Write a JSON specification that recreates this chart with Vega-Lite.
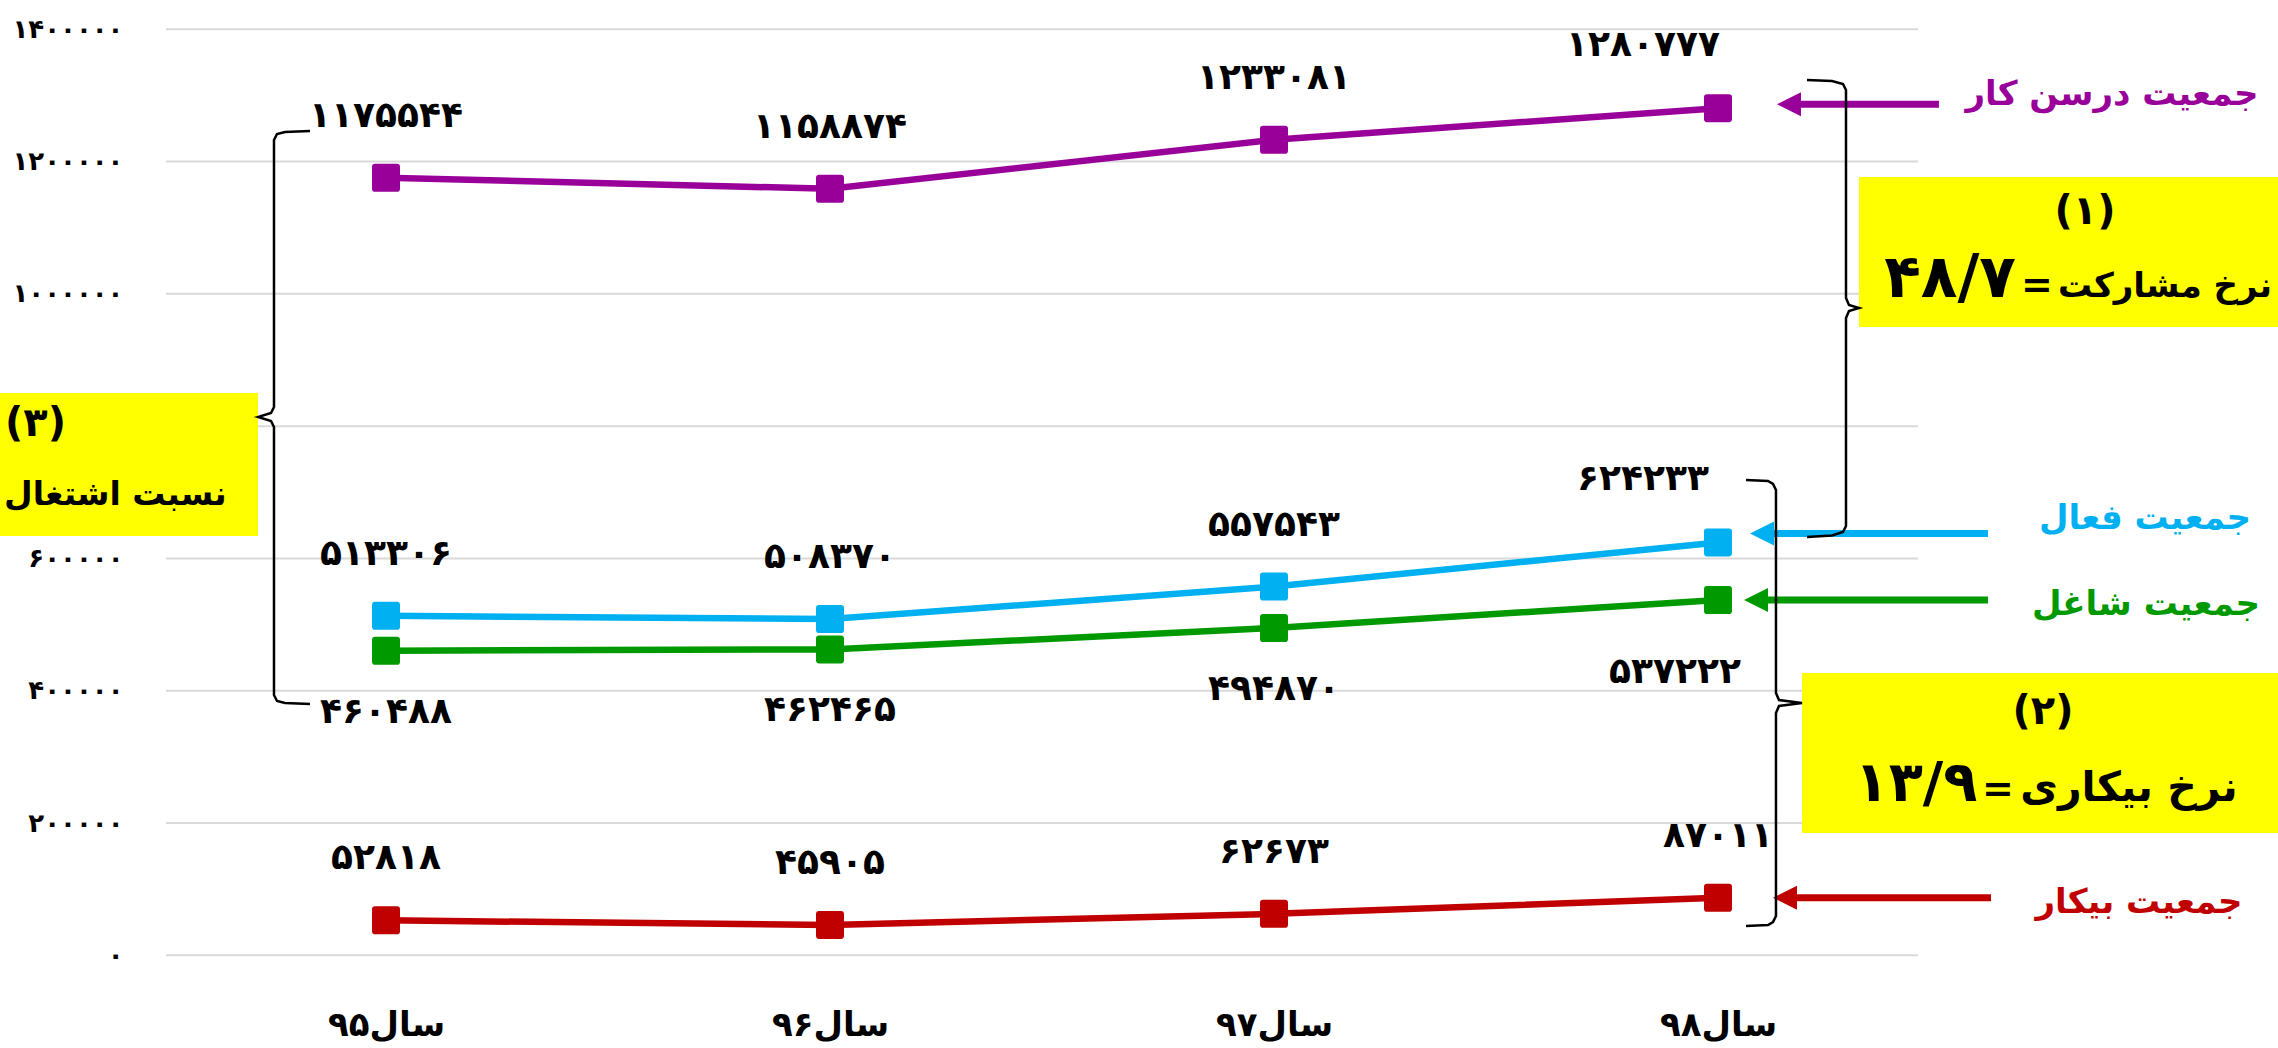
{
 "$schema": "https://vega.github.io/schema/vega-lite/v6.json",
 "width": 2278, "height": 1048,
 "autosize": {"type": "none"},
 "padding": 0,
 "background": "white",
 "config": {"view": {"stroke": null}, "font": "DejaVu Sans", "text": {"font": "DejaVu Sans", "fontWeight": "bold"}},
 "datasets": {
  "series": [
   {"year":95,"series":"جمعیت درسن کار","value":1175544,"label":"۱۱۷۵۵۴۴"},
   {"year":96,"series":"جمعیت درسن کار","value":1158874,"label":"۱۱۵۸۸۷۴"},
   {"year":97,"series":"جمعیت درسن کار","value":1233081,"label":"۱۲۳۳۰۸۱"},
   {"year":98,"series":"جمعیت درسن کار","value":1280777,"label":"۱۲۸۰۷۷۷"},
   {"year":95,"series":"جمعیت فعال","value":513306,"label":"۵۱۳۳۰۶"},
   {"year":96,"series":"جمعیت فعال","value":508370,"label":"۵۰۸۳۷۰"},
   {"year":97,"series":"جمعیت فعال","value":557543,"label":"۵۵۷۵۴۳"},
   {"year":98,"series":"جمعیت فعال","value":624233,"label":"۶۲۴۲۳۳"},
   {"year":95,"series":"جمعیت شاغل","value":460488,"label":"۴۶۰۴۸۸"},
   {"year":96,"series":"جمعیت شاغل","value":462465,"label":"۴۶۲۴۶۵"},
   {"year":97,"series":"جمعیت شاغل","value":494870,"label":"۴۹۴۸۷۰"},
   {"year":98,"series":"جمعیت شاغل","value":537222,"label":"۵۳۷۲۲۲"},
   {"year":95,"series":"جمعیت بیکار","value":52818,"label":"۵۲۸۱۸"},
   {"year":96,"series":"جمعیت بیکار","value":45905,"label":"۴۵۹۰۵"},
   {"year":97,"series":"جمعیت بیکار","value":62673,"label":"۶۲۶۷۳"},
   {"year":98,"series":"جمعیت بیکار","value":87011,"label":"۸۷۰۱۱"}
  ],
  "grid": [{"value":0},{"value":200000},{"value":400000},{"value":600000},{"value":800000},{"value":1000000},{"value":1200000},{"value":1400000}],
  "braces": [
   {"brace":"a","i":0,"year":98.2005,"value":1323348},
   {"brace":"a","i":1,"year":98.2568,"value":1321836},
   {"brace":"a","i":2,"year":98.2815,"value":1317301},
   {"brace":"a","i":3,"year":98.2883,"value":1308229},
   {"brace":"a","i":4,"year":98.2883,"value":993758},
   {"brace":"a","i":5,"year":98.2950,"value":983175},
   {"brace":"a","i":6,"year":98.3176,"value":978639},
   {"brace":"a","i":7,"year":98.2950,"value":974104},
   {"brace":"a","i":8,"year":98.2883,"value":963521},
   {"brace":"a","i":9,"year":98.2883,"value":649050},
   {"brace":"a","i":10,"year":98.2815,"value":639979},
   {"brace":"a","i":11,"year":98.2568,"value":634687},
   {"brace":"a","i":12,"year":98.2005,"value":632419},
   {"brace":"b","i":0,"year":98.0631,"value":718596},
   {"brace":"b","i":1,"year":98.1126,"value":717085},
   {"brace":"b","i":2,"year":98.1239,"value":712549},
   {"brace":"b","i":3,"year":98.1306,"value":703478},
   {"brace":"b","i":4,"year":98.1306,"value":396566},
   {"brace":"b","i":5,"year":98.1374,"value":385983},
   {"brace":"b","i":6,"year":98.1892,"value":381447},
   {"brace":"b","i":7,"year":98.1374,"value":376912},
   {"brace":"b","i":8,"year":98.1306,"value":366328},
   {"brace":"b","i":9,"year":98.1306,"value":59417},
   {"brace":"b","i":10,"year":98.1239,"value":50346},
   {"brace":"b","i":11,"year":98.1126,"value":45810},
   {"brace":"b","i":12,"year":98.0631,"value":44298},
   {"brace":"c","i":0,"year":94.8288,"value":1246242},
   {"brace":"c","i":1,"year":94.7725,"value":1244730},
   {"brace":"c","i":2,"year":94.7545,"value":1241707},
   {"brace":"c","i":3,"year":94.7477,"value":1232635},
   {"brace":"c","i":4,"year":94.7477,"value":828964},
   {"brace":"c","i":5,"year":94.7410,"value":819893},
   {"brace":"c","i":6,"year":94.7117,"value":813845},
   {"brace":"c","i":7,"year":94.7410,"value":807798},
   {"brace":"c","i":8,"year":94.7477,"value":798726},
   {"brace":"c","i":9,"year":94.7477,"value":393542},
   {"brace":"c","i":10,"year":94.7545,"value":384471},
   {"brace":"c","i":11,"year":94.7725,"value":381447},
   {"brace":"c","i":12,"year":94.8288,"value":379935}
  ]
 },
 "layer": [
  {"data":{"name":"grid"},"mark":{"type":"rule","color":"#D9D9D9","strokeWidth":2},
   "encoding":{"y":{"field":"value","type":"quantitative","scale":{"domain":[-140147,1444298],"nice":false,"zero":false}},
     "x":{"datum":94.5045,"type":"quantitative","scale":{"domain":[94.1306,99.2613],"nice":false,"zero":false}},"x2":{"datum":98.4505}}},
  {"data":{"values":[{}]},"mark":{"type":"rect","color":"#FFFF00"},
   "encoding":{"x":{"datum":98.3176,"type":"quantitative"},"x2":{"datum":99.3},"y":{"datum":1176682,"type":"quantitative"},"y2":{"datum":949914}}},
  {"data":{"values":[{}]},"mark":{"type":"rect","color":"#FFFF00"},
   "encoding":{"x":{"datum":98.1892,"type":"quantitative"},"x2":{"datum":99.3},"y":{"datum":426804,"type":"quantitative"},"y2":{"datum":184903}}},
  {"data":{"values":[{}]},"mark":{"type":"rect","color":"#FFFF00"},
   "encoding":{"x":{"datum":94.12,"type":"quantitative"},"x2":{"datum":94.7117},"y":{"datum":850130,"type":"quantitative"},"y2":{"datum":633931}}},
  {"data":{"name":"series"},"mark":{"type":"line","strokeWidth":6.5},
   "encoding":{
    "x":{"field":"year","type":"quantitative","scale":{"domain":[94.1306,99.2613],"nice":false,"zero":false},
      "axis":{"values":[95,96,97,98],"format":"d","labelExpr":"'سال' + replace(replace(replace(replace(replace(datum.label,'9','۹'),'5','۵'),'6','۶'),'7','۷'),'8','۸')","title":null,"domain":false,"ticks":false,"grid":false,"offset":-92.7,"labelPadding":80,"labelBaseline":"alphabetic","labelFontSize":34,"labelFontWeight":"bold","labelFont":"DejaVu Sans","labelColor":"black","labelFlush":false,"labelOverlap":false}},
    "y":{"field":"value","type":"quantitative","scale":{"domain":[-140147,1444298],"nice":false,"zero":false},
      "axis":{"values":[0,200000,400000,600000,1000000,1200000,1400000],"format":"d","labelExpr":"replace(replace(replace(replace(replace(replace(datum.label,regexp('0','g'),'۰'),regexp('1','g'),'۱'),regexp('2','g'),'۲'),regexp('4','g'),'۴'),regexp('6','g'),'۶'),regexp('8','g'),'۸')","title":null,"domain":false,"ticks":false,"grid":false,"offset":-166,"labelPadding":43,"labelFontSize":26,"labelFontWeight":"bold","labelFont":"DejaVu Sans","labelColor":"black","labelFlush":false,"labelOverlap":false}},
    "color":{"field":"series","type":"nominal","scale":{"domain":["جمعیت درسن کار","جمعیت فعال","جمعیت شاغل","جمعیت بیکار"],"range":["#990099","#00B0F0","#009900","#C00000"]},"legend":null}}},
  {"data":{"name":"series"},"mark":{"type":"point","shape":"M-0.78,-1L0.78,-1Q1,-1 1,-0.78L1,0.78Q1,1 0.78,1L-0.78,1Q-1,1 -1,0.78L-1,-0.78Q-1,-1 -0.78,-1Z","filled":true,"size":784,"opacity":1},
   "encoding":{"x":{"field":"year","type":"quantitative"},"y":{"field":"value","type":"quantitative"},"color":{"field":"series","type":"nominal","legend":null}}},
  {"data":{"name":"series"},"transform":[{"filter":"datum.year === 98 && datum.series === 'جمعیت درسن کار'"}],"mark":{"type":"rule","strokeWidth":7,"yOffset":-4},
   "encoding":{"x":{"datum":98.4977,"type":"quantitative"},"x2":{"datum":98.1599},"y":{"field":"value","type":"quantitative"},"color":{"field":"series","type":"nominal","legend":null}}},
  {"data":{"name":"series"},"transform":[{"filter":"datum.year === 98 && datum.series === 'جمعیت فعال'"}],"mark":{"type":"rule","strokeWidth":7,"yOffset":-9},
   "encoding":{"x":{"datum":98.6081,"type":"quantitative"},"x2":{"datum":98.0991},"y":{"field":"value","type":"quantitative"},"color":{"field":"series","type":"nominal","legend":null}}},
  {"data":{"name":"series"},"transform":[{"filter":"datum.year === 98 && datum.series === 'جمعیت شاغل'"}],"mark":{"type":"rule","strokeWidth":7},
   "encoding":{"x":{"datum":98.6081,"type":"quantitative"},"x2":{"datum":98.0856},"y":{"field":"value","type":"quantitative"},"color":{"field":"series","type":"nominal","legend":null}}},
  {"data":{"name":"series"},"transform":[{"filter":"datum.year === 98 && datum.series === 'جمعیت بیکار'"}],"mark":{"type":"rule","strokeWidth":7},
   "encoding":{"x":{"datum":98.6149,"type":"quantitative"},"x2":{"datum":98.1509},"y":{"field":"value","type":"quantitative"},"color":{"field":"series","type":"nominal","legend":null}}},
  {"data":{"name":"series"},"transform":[{"filter":"datum.year === 98 && datum.series === 'جمعیت درسن کار'"}],"mark":{"type":"point","shape":"M-1,0L1,-1L1,1Z","filled":true,"size":576,"opacity":1,"yOffset":-4},
   "encoding":{"x":{"datum":98.1599,"type":"quantitative"},"y":{"field":"value","type":"quantitative"},"color":{"field":"series","type":"nominal","legend":null}}},
  {"data":{"name":"series"},"transform":[{"filter":"datum.year === 98 && datum.series === 'جمعیت فعال'"}],"mark":{"type":"point","shape":"M-1,0L1,-1L1,1Z","filled":true,"size":576,"opacity":1,"yOffset":-9},
   "encoding":{"x":{"datum":98.0991,"type":"quantitative"},"y":{"field":"value","type":"quantitative"},"color":{"field":"series","type":"nominal","legend":null}}},
  {"data":{"name":"series"},"transform":[{"filter":"datum.year === 98 && datum.series === 'جمعیت شاغل'"}],"mark":{"type":"point","shape":"M-1,0L1,-1L1,1Z","filled":true,"size":576,"opacity":1},
   "encoding":{"x":{"datum":98.0856,"type":"quantitative"},"y":{"field":"value","type":"quantitative"},"color":{"field":"series","type":"nominal","legend":null}}},
  {"data":{"name":"series"},"transform":[{"filter":"datum.year === 98 && datum.series === 'جمعیت بیکار'"}],"mark":{"type":"point","shape":"M-1,0L1,-1L1,1Z","filled":true,"size":576,"opacity":1},
   "encoding":{"x":{"datum":98.1509,"type":"quantitative"},"y":{"field":"value","type":"quantitative"},"color":{"field":"series","type":"nominal","legend":null}}},
  {"data":{"name":"braces"},"mark":{"type":"line","color":"black","strokeWidth":2.5},
   "encoding":{"x":{"field":"year","type":"quantitative"},"y":{"field":"value","type":"quantitative"},"detail":{"field":"brace","type":"nominal"},"order":{"field":"i","type":"quantitative"}}},
  {"data":{"name":"series"},"transform":[{"filter":"datum.series !== 'جمعیت شاغل' && !(datum.year === 98 && datum.series !== 'جمعیت بیکار')"}],
   "mark":{"type":"text","fontSize":36,"fontWeight":"bold","color":"black","baseline":"middle","align":"center","dy":-62},
   "encoding":{"x":{"field":"year","type":"quantitative"},"y":{"field":"value","type":"quantitative"},"text":{"field":"label"}}},
  {"data":{"name":"series"},"transform":[{"filter":"datum.year === 98 && (datum.series === 'جمعیت درسن کار' || datum.series === 'جمعیت فعال')"}],
   "mark":{"type":"text","fontSize":36,"fontWeight":"bold","color":"black","baseline":"middle","align":"center","dy":-63,"dx":-75},
   "encoding":{"x":{"field":"year","type":"quantitative"},"y":{"field":"value","type":"quantitative"},"text":{"field":"label"}}},
  {"data":{"name":"series"},"transform":[{"filter":"datum.series === 'جمعیت شاغل' && datum.year !== 98"}],
   "mark":{"type":"text","fontSize":36,"fontWeight":"bold","color":"black","baseline":"middle","align":"center","dy":61},
   "encoding":{"x":{"field":"year","type":"quantitative"},"y":{"field":"value","type":"quantitative"},"text":{"field":"label"}}},
  {"data":{"name":"series"},"transform":[{"filter":"datum.series === 'جمعیت شاغل' && datum.year === 98"}],
   "mark":{"type":"text","fontSize":36,"fontWeight":"bold","color":"black","baseline":"middle","align":"center","dy":72,"dx":-43},
   "encoding":{"x":{"field":"year","type":"quantitative"},"y":{"field":"value","type":"quantitative"},"text":{"field":"label"}}},
  {"data":{"name":"series"},"transform":[{"filter":"datum.year === 98 && datum.series === 'جمعیت درسن کار'"}],
   "mark":{"type":"text","fontSize":34,"fontWeight":"bold","baseline":"middle","align":"center","dy":-13},
   "encoding":{"x":{"datum":98.8874,"type":"quantitative"},"y":{"field":"value","type":"quantitative"},"text":{"field":"series"},"color":{"field":"series","type":"nominal","legend":null}}},
  {"data":{"name":"series"},"transform":[{"filter":"datum.year === 98 && datum.series === 'جمعیت فعال'"}],
   "mark":{"type":"text","fontSize":34,"fontWeight":"bold","baseline":"middle","align":"center","dy":-23},
   "encoding":{"x":{"datum":98.9617,"type":"quantitative"},"y":{"field":"value","type":"quantitative"},"text":{"field":"series"},"color":{"field":"series","type":"nominal","legend":null}}},
  {"data":{"name":"series"},"transform":[{"filter":"datum.year === 98 && datum.series === 'جمعیت شاغل'"}],
   "mark":{"type":"text","fontSize":34,"fontWeight":"bold","baseline":"middle","align":"center","dy":5},
   "encoding":{"x":{"datum":98.9640,"type":"quantitative"},"y":{"field":"value","type":"quantitative"},"text":{"field":"series"},"color":{"field":"series","type":"nominal","legend":null}}},
  {"data":{"name":"series"},"transform":[{"filter":"datum.year === 98 && datum.series === 'جمعیت بیکار'"}],
   "mark":{"type":"text","fontSize":34,"fontWeight":"bold","baseline":"middle","align":"center","dy":5},
   "encoding":{"x":{"datum":98.9482,"type":"quantitative"},"y":{"field":"value","type":"quantitative"},"text":{"field":"series"},"color":{"field":"series","type":"nominal","legend":null}}},
  {"data":{"values":[{}]},"mark":{"type":"text","text":"(۱)","fontSize":40,"fontWeight":"bold","color":"black","baseline":"middle","align":"center"},
   "encoding":{"x":{"datum":98.8266,"type":"quantitative"},"y":{"datum":1123780,"type":"quantitative"}}},
  {"data":{"values":[{}]},"mark":{"type":"text","text":"۴۸/۷","fontSize":60,"fontWeight":"bold","color":"black","baseline":"alphabetic","align":"right"},
   "encoding":{"x":{"datum":98.6712,"type":"quantitative"},"y":{"datum":995270,"type":"quantitative"}}},
  {"data":{"values":[{}]},"mark":{"type":"text","text":"=","fontSize":38,"fontWeight":"bold","color":"black","baseline":"alphabetic","align":"center"},
   "encoding":{"x":{"datum":98.7185,"type":"quantitative"},"y":{"datum":995270,"type":"quantitative"}}},
  {"data":{"values":[{}]},"mark":{"type":"text","text":"نرخ مشارکت","fontSize":34,"fontWeight":"bold","color":"black","baseline":"alphabetic","align":"right"},
   "encoding":{"x":{"datum":99.2477,"type":"quantitative"},"y":{"datum":995270,"type":"quantitative"}}},
  {"data":{"values":[{}]},"mark":{"type":"text","text":"(۲)","fontSize":40,"fontWeight":"bold","color":"black","baseline":"middle","align":"center"},
   "encoding":{"x":{"datum":98.7320,"type":"quantitative"},"y":{"datum":367840,"type":"quantitative"}}},
  {"data":{"values":[{}]},"mark":{"type":"text","text":"۱۳/۹","fontSize":56,"fontWeight":"bold","color":"black","baseline":"alphabetic","align":"center"},
   "encoding":{"x":{"datum":98.4459,"type":"quantitative"},"y":{"datum":233283,"type":"quantitative"}}},
  {"data":{"values":[{}]},"mark":{"type":"text","text":"=","fontSize":38,"fontWeight":"bold","color":"black","baseline":"alphabetic","align":"center"},
   "encoding":{"x":{"datum":98.6306,"type":"quantitative"},"y":{"datum":233283,"type":"quantitative"}}},
  {"data":{"values":[{}]},"mark":{"type":"text","text":"نرخ بیکاری","fontSize":41,"fontWeight":"bold","color":"black","baseline":"alphabetic","align":"center"},
   "encoding":{"x":{"datum":98.9257,"type":"quantitative"},"y":{"datum":233283,"type":"quantitative"}}},
  {"data":{"values":[{}]},"mark":{"type":"text","text":"(۳)","fontSize":40,"fontWeight":"bold","color":"black","baseline":"middle","align":"left"},
   "encoding":{"x":{"datum":94.1419,"type":"quantitative"},"y":{"datum":803262,"type":"quantitative"}}},
  {"data":{"values":[{}]},"mark":{"type":"text","text":"نسبت اشتغال","fontSize":33,"fontWeight":"bold","color":"black","baseline":"alphabetic","align":"left"},
   "encoding":{"x":{"datum":94.1396,"type":"quantitative"},"y":{"datum":680799,"type":"quantitative"}}}
 ]
}
